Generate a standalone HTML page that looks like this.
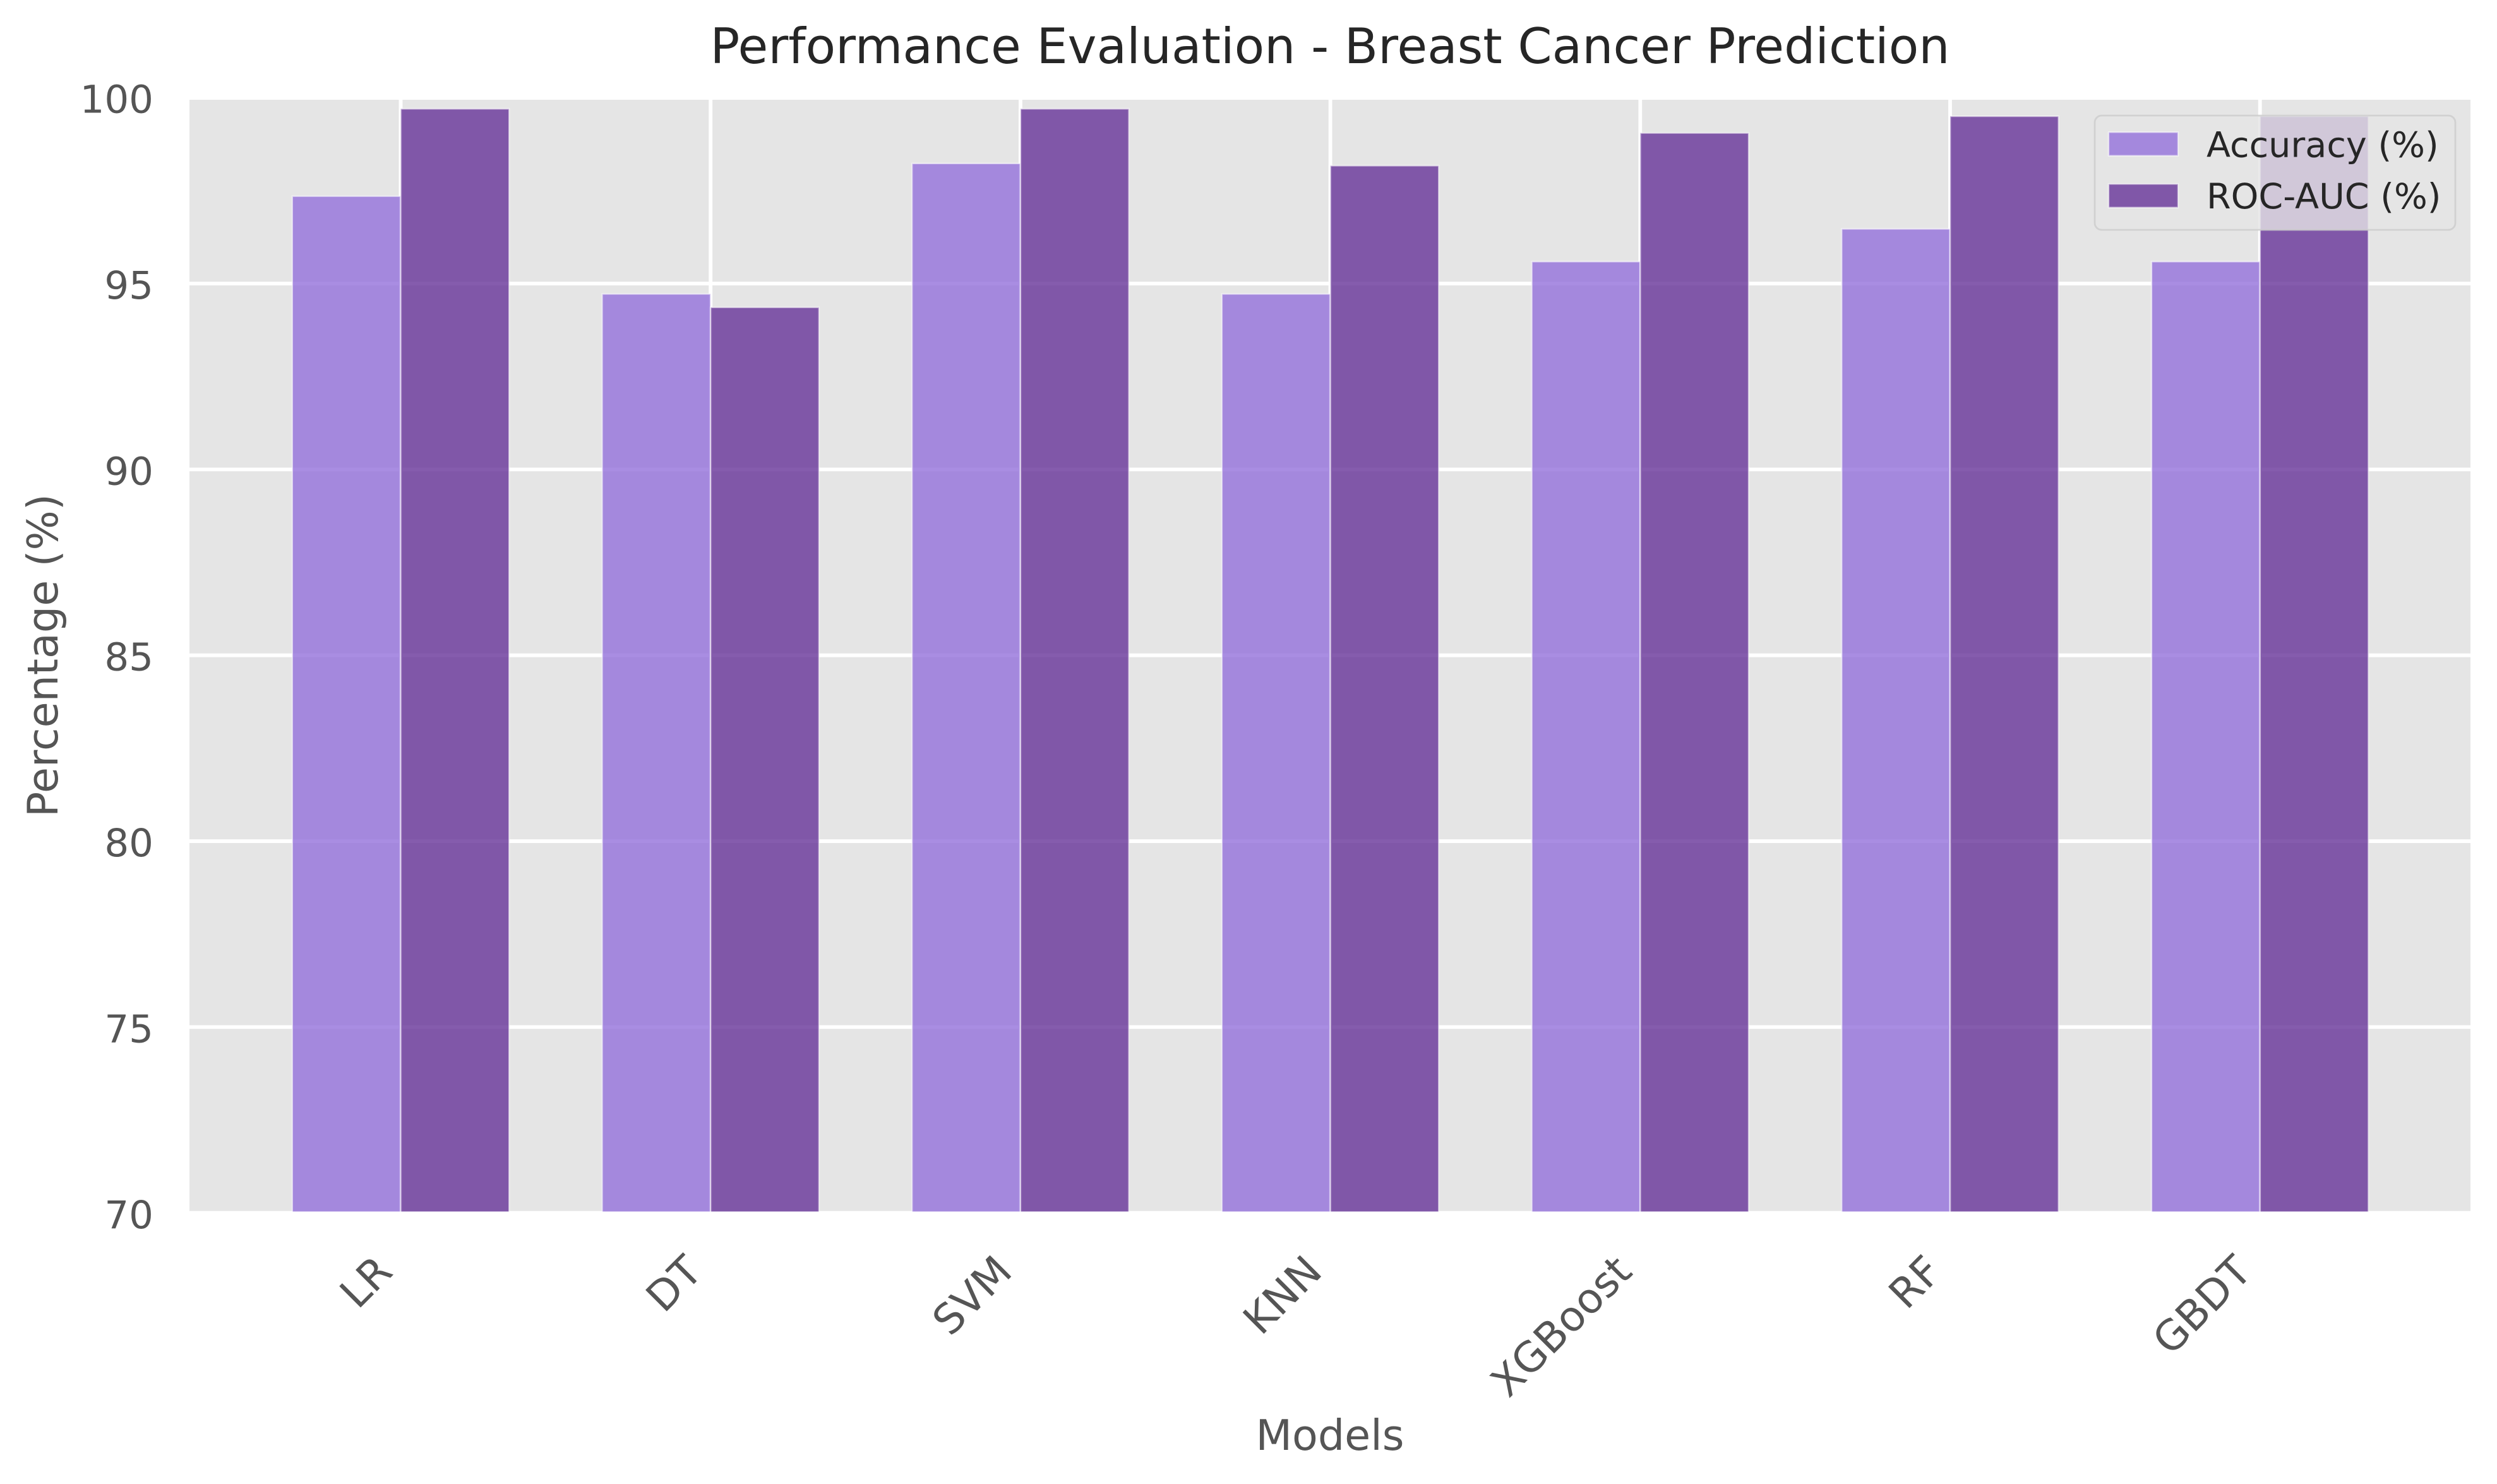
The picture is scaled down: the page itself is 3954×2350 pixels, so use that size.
<!DOCTYPE html>
<html lang="en">
<head>
<meta charset="utf-8">
<title>Performance Evaluation - Breast Cancer Prediction</title>
<style>
html,body{margin:0;padding:0;background:#fff;}
svg{display:block;font-family:"DejaVu Sans","Liberation Sans",sans-serif;}
</style>
</head>
<body>
<svg id="chart" xmlns="http://www.w3.org/2000/svg" width="3954" height="2350" viewBox="0 0 3954 2350">
  <defs>
    <clipPath id="axes-clip"><rect x="300" y="158" width="3612" height="1760.5"></rect></clipPath>
  </defs>
  <rect x="0" y="0" width="3954" height="2350" fill="#ffffff"></rect>
  <rect x="300" y="158" width="3612" height="1759.7" fill="#e5e5e5"></rect>
  <g id="grid" clip-path="url(#axes-clip)"></g>
  <g id="bars" clip-path="url(#axes-clip)"></g>
  <g id="yticks"></g>
  <g id="xticks"></g>
  <text x="2106" y="100" font-size="77.7" fill="#262626" text-anchor="middle">Performance Evaluation - Breast Cancer Prediction</text>
  <text x="2106" y="2296" font-size="66.7" fill="#555555" text-anchor="middle">Models</text>
  <text transform="translate(91,1038) rotate(-90)" font-size="66.7" fill="#555555" text-anchor="middle">Percentage (%)</text>
  <g>
    <rect x="3317" y="183" width="571" height="181" rx="11" ry="11" fill="#e5e5e5" fill-opacity="0.8" stroke="#cccccc" stroke-opacity="0.8" stroke-width="2.8"></rect>
    <rect x="3339" y="209.3" width="110" height="37.4" fill="#9370db" fill-opacity="0.8" stroke="#ffffff" stroke-opacity="0.55" stroke-width="2.4"></rect>
    <text x="3494" y="248.3" font-size="55.6" fill="#262626">Accuracy (%)</text>
    <rect x="3339" y="291.3" width="110" height="37.4" fill="#663399" fill-opacity="0.8" stroke="#ffffff" stroke-opacity="0.55" stroke-width="2.4"></rect>
    <text x="3494" y="330" font-size="55.6" fill="#262626">ROC-AUC (%)</text>
  </g>
</svg>
<script>
const categories = ["LR", "DT", "SVM", "KNN", "XGBoost", "RF", "GBDT"];
const accuracyValues = [97.35, 94.72, 98.23, 94.72, 95.59, 96.47, 95.59];
const rocAucValues = [99.7, 94.36, 99.7, 98.17, 99.05, 99.5, 99.5];
const yTickValues = [70, 75, 80, 85, 90, 95, 100];

const NS = "http://www.w3.org/2000/svg";
function xAxis(i) { return 634.5 + 490.7 * i; }
function yAxis(v) { return 449 + (95 - v) * 58.87; }
const barWidth = 171.7;

function make(tag, parent) {
  const el = document.createElementNS(NS, tag);
  parent.appendChild(el);
  return el;
}

const gridGroup = document.getElementById("grid");
const barsGroup = document.getElementById("bars");
const yTickGroup = document.getElementById("yticks");
const xTickGroup = document.getElementById("xticks");

yTickValues.forEach(function (v) {
  const line = make("line", gridGroup);
  
  
  line.setAttribute("x1", 300);
  line.setAttribute("x2", 3912);
  line.setAttribute("y1", yAxis(v));
  line.setAttribute("y2", yAxis(v));
  line.setAttribute("stroke", "#ffffff");
  line.setAttribute("stroke-width", 5.8);

  const label = make("text", yTickGroup);
  
  
  label.setAttribute("x", 243);
  label.setAttribute("y", yAxis(v) + 24);
  label.setAttribute("font-size", 61);
  label.setAttribute("fill", "#555555");
  label.setAttribute("text-anchor", "end");
  label.textContent = String(v);
});

categories.forEach(function (name, i) {
  const line = make("line", gridGroup);
  
  
  line.setAttribute("x1", xAxis(i));
  line.setAttribute("x2", xAxis(i));
  line.setAttribute("y1", 158);
  line.setAttribute("y2", 1920);
  line.setAttribute("stroke", "#ffffff");
  line.setAttribute("stroke-width", 5.8);

  const accBar = make("rect", barsGroup);
  
  
  accBar.setAttribute("x", xAxis(i) - barWidth);
  accBar.setAttribute("y", yAxis(accuracyValues[i]));
  accBar.setAttribute("width", barWidth);
  accBar.setAttribute("height", yAxis(70) - yAxis(accuracyValues[i]));
  accBar.setAttribute("fill", "#9370db");
  accBar.setAttribute("fill-opacity", 0.8);
  accBar.setAttribute("stroke", "#ffffff");
  accBar.setAttribute("stroke-opacity", 0.55);
  accBar.setAttribute("stroke-width", 2.4);

  const rocBar = make("rect", barsGroup);
  
  
  rocBar.setAttribute("x", xAxis(i));
  rocBar.setAttribute("y", yAxis(rocAucValues[i]));
  rocBar.setAttribute("width", barWidth);
  rocBar.setAttribute("height", yAxis(70) - yAxis(rocAucValues[i]));
  rocBar.setAttribute("fill", "#663399");
  rocBar.setAttribute("fill-opacity", 0.8);
  rocBar.setAttribute("stroke", "#ffffff");
  rocBar.setAttribute("stroke-opacity", 0.55);
  rocBar.setAttribute("stroke-width", 2.4);

  const label = make("text", xTickGroup);
  
  
  label.setAttribute("transform", "translate(" + (xAxis(i) - 10) + ",2017) rotate(-45)");
  label.setAttribute("font-size", 65.5);
  label.setAttribute("fill", "#555555");
  label.setAttribute("text-anchor", "end");
  label.textContent = name;
});
</script>
</body>
</html>
